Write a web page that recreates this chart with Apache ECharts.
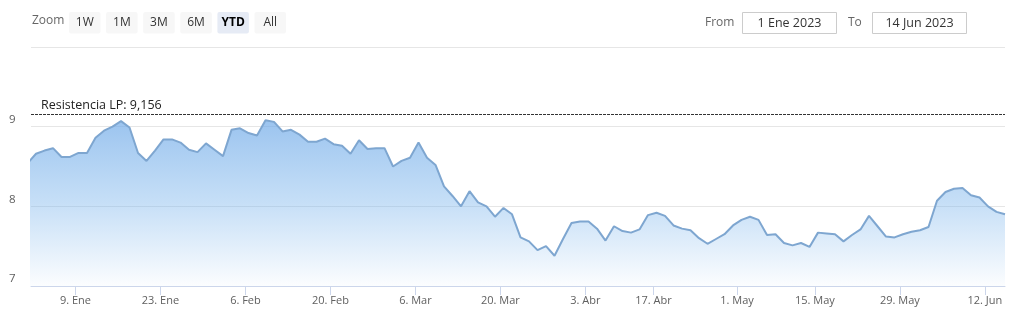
<!DOCTYPE html>
<html>
<head>
<meta charset="utf-8">
<script src="https://cdn.jsdelivr.net/npm/echarts@6/dist/echarts.min.js"></script>
<style>
html,body{margin:0;padding:0;background:#fff;}
#chart{width:1023px;height:323px;}
</style>
</head>
<body>
<div id="chart"></div>
<script>
// ---- data ----
const firstDay = '2023-01-02';
const lastDay = '2023-06-14';
const holidays = ['2023-04-07', '2023-04-10', '2023-05-01'];
const prevClose = 8.54; // 30 Dic 2022, drawn left of the visible range
const closes = [
  8.66, 8.70, 8.73, 8.62, 8.62, 8.67, 8.67, 8.86, 8.95, 9.00, 9.07, 8.99, 8.67, 8.57, 8.70, 8.84, 8.84, 8.80, 8.71, 8.68, 8.79, 8.71, 8.63,
  8.96, 8.98, 8.92, 8.89, 9.08, 9.06, 8.94, 8.96, 8.90, 8.81, 8.81, 8.85, 8.78, 8.76, 8.66, 8.83, 8.72, 8.73, 8.73, 8.50, 8.57, 8.61, 8.80,
  8.61, 8.52, 8.25, 8.13, 8.00, 8.19, 8.05, 8.00, 7.87, 7.98, 7.90, 7.61, 7.56, 7.45, 7.50, 7.38, 7.59, 7.79, 7.81, 7.81, 7.72, 7.57,
  7.75, 7.69, 7.67, 7.71, 7.89, 7.92, 7.88, 7.76, 7.72, 7.70, 7.60, 7.53, 7.59, 7.65, 7.76, 7.83, 7.87, 7.83, 7.64, 7.65, 7.54, 7.51, 7.54,
  7.49, 7.67, 7.66, 7.65, 7.56, 7.64, 7.71, 7.88, 7.75, 7.62, 7.61, 7.65, 7.68, 7.70, 7.74, 8.07, 8.18, 8.22, 8.23, 8.14, 8.11, 8.00, 7.93, 7.90
];
const tickDates = ['2023-01-09','2023-01-23','2023-02-06','2023-02-20','2023-03-06','2023-03-20','2023-04-03','2023-04-17','2023-05-01','2023-05-15','2023-05-29','2023-06-12'];
const tickLabels = ['9. Ene','23. Ene','6. Feb','20. Feb','6. Mar','20. Mar','3. Abr','17. Abr','1. May','15. May','29. May','12. Jun'];
const yTicks = [7, 8, 9, 10];
const resistance = 9.156;
const zoomButtons = ['1W', '1M', '3M', '6M', 'YTD', 'All'];
const selectedButton = 'YTD';
const fromText = '1 Ene 2023';
const toText = '14 Jun 2023';

// ---- trading-day (ordinal) axis ----
const DAY = 86400000;
function parse(d){ const p = d.split('-').map(Number); return Date.UTC(p[0], p[1]-1, p[2]); }
function fmt(t){ return new Date(t).toISOString().slice(0,10); }
const tradingDays = [];
for (let t = parse(firstDay); t <= parse(lastDay); t += DAY) {
  const wd = new Date(t).getUTCDay();
  if (wd === 0 || wd === 6) continue;
  if (holidays.indexOf(fmt(t)) >= 0) continue;
  tradingDays.push(fmt(t));
}
// data points are stamped a little after midnight, so midnight ticks fall just before them
const stampShift = 26 * 3600000;
const stamps = [parse(firstDay) - 3 * DAY].concat(tradingDays.map(parse)).map(t => t + stampShift);
function ordinalPos(d){
  const T = parse(d);
  for (let k = 0; k < stamps.length - 1; k++) {
    if (T >= stamps[k] && T < stamps[k+1]) return (k - 1) + (T - stamps[k]) / (stamps[k+1] - stamps[k]);
  }
  return tradingDays.length - 1;
}
const tickPos = tickDates.map(ordinalPos);
function labelFor(v){
  let best = 0, bd = Infinity;
  tickPos.forEach((p, i) => { const d = Math.abs(p - v); if (d < bd) { bd = d; best = i; } });
  return tickLabels[best];
}
const seriesData = [[-1, prevClose]].concat(closes.map((v, i) => [i, v]));

// ---- range selector graphics ----
const FONT = '"Open Sans", "Liberation Sans", Arial, sans-serif';
const graphics = [];
graphics.push({type:'text', left:32, top:15, style:{text:'Zoom', fill:'#666', font:'12px ' + FONT}});
zoomButtons.forEach((b, i) => {
  const x = 69 + i * 37.1;
  const sel = b === selectedButton;
  graphics.push({type:'rect', shape:{x:x, y:12, width:31.5, height:21.5, r:2}, style:{fill: sel ? '#e6ebf5' : '#f7f7f7'}});
  graphics.push({type:'text', x:x + 15.75, y:23, style:{text:b, fill: sel ? '#000' : '#333', font:(sel ? 'bold ' : '') + '12px ' + FONT, align:'center', verticalAlign:'middle'}});
});
graphics.push({type:'text', x:705, y:23, style:{text:'From', fill:'#666', font:'12px ' + FONT, verticalAlign:'middle'}});
graphics.push({type:'rect', shape:{x:742.5, y:12.5, width:94, height:21}, style:{fill:'#fff', stroke:'#cccccc', lineWidth:1}});
graphics.push({type:'text', x:789.5, y:23, style:{text:fromText, fill:'#333', font:'12.5px ' + FONT, align:'center', verticalAlign:'middle'}});
graphics.push({type:'text', x:848, y:23, style:{text:'To', fill:'#666', font:'12px ' + FONT, verticalAlign:'middle'}});
graphics.push({type:'rect', shape:{x:872.5, y:12.5, width:94, height:21}, style:{fill:'#fff', stroke:'#cccccc', lineWidth:1}});
graphics.push({type:'text', x:919.5, y:23, style:{text:toText, fill:'#333', font:'12.5px ' + FONT, align:'center', verticalAlign:'middle'}});

const chart = echarts.init(document.getElementById('chart'), null, {renderer:'canvas'});
chart.setOption({
  animation: false,
  backgroundColor: '#fff',
  textStyle: {fontFamily: FONT},
  graphic: graphics,
  grid: {left: 31, right: 18, top: 47, bottom: 37, containLabel: false},
  xAxis: {
    type: 'value',
    min: -0.59,
    max: tradingDays.length - 1,
    axisLine: {show: true, lineStyle: {color: '#ccd6eb', width: 1}},
    splitLine: {show: false},
    axisTick: {show: true, customValues: tickPos, length: 9, lineStyle: {color: '#ccd6eb'}},
    axisLabel: {customValues: tickPos, formatter: labelFor, color: '#606060', fontSize: 11, margin: 9, fontFamily: FONT}
  },
  yAxis: {
    type: 'value',
    min: yTicks[0],
    max: yTicks[yTicks.length - 1],
    interval: 1,
    axisLine: {show: false},
    axisTick: {show: false},
    splitLine: {lineStyle: {color: '#e6e6e6', width: 1}},
    axisLabel: {showMaxLabel: false, align: 'left', margin: 22, verticalAlign: 'bottom', padding: [0,0,1,0], color: '#606060', fontSize: 11.5, fontFamily: FONT}
  },
  series: [{
    type: 'line',
    data: seriesData,
    symbol: 'none',
    clip: true,
    lineStyle: {color: '#7ea6d0', width: 2},
    areaStyle: {
      origin: 'start',
      color: new echarts.graphic.LinearGradient(0, 0, 0, 1, [
        {offset: 0, color: 'rgba(112,170,232,1)'},
        {offset: 0.5, color: 'rgba(124,181,236,0.62)'},
        {offset: 1, color: 'rgba(124,181,236,0.04)'}
      ])
    },
    markLine: {
      silent: true,
      symbol: ['none', 'none'],
      lineStyle: {color: '#333', type: [3, 1], width: 1},
      label: {
        position: 'insideStartTop',
        formatter: 'Resistencia LP: ' + String(resistance).replace('.', ','),
        color: '#222',
        fontSize: 12.5,
        fontFamily: FONT,
        distance: [10, 2]
      },
      data: [{yAxis: resistance}]
    }
  }]
});
</script>
</body>
</html>
